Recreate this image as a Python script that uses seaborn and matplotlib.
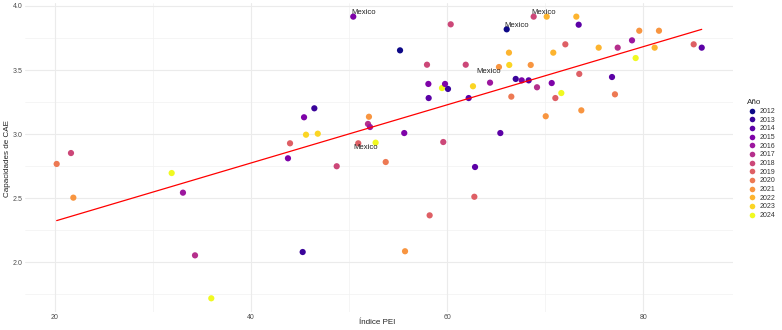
import matplotlib
matplotlib.use("Agg")
import matplotlib.pyplot as plt
import seaborn as sns
import numpy as np
import pandas as pd

# ---- data ----
pei = [20.17, 21.63, 21.87, 31.9, 33.05, 34.28, 35.94, 43.76, 43.97, 45.26,
       45.4, 45.6, 46.45, 46.8, 48.73, 50.42, 50.93, 51.92, 52.02, 52.13,
       52.7, 53.73, 55.19, 55.62, 55.7, 57.94, 58.08, 58.11, 58.21, 59.47,
       59.6, 59.78, 60.08, 60.36, 61.89, 62.19, 62.63, 62.77, 62.84, 64.37,
       65.28, 65.42, 66.07, 66.30, 66.33, 66.54, 66.99, 67.6, 68.31, 68.52,
       68.82, 69.16, 70.05, 70.15, 70.66, 70.82, 71.03, 71.64, 72.05, 73.17,
       73.41, 73.47, 73.68, 75.45, 76.81, 77.11, 77.39, 78.85, 79.22, 79.59,
       81.16, 81.6, 85.14, 85.96]
cae = [2.768, 2.853, 2.505, 2.697, 2.544, 2.055, 1.72, 2.812, 2.929, 2.081,
       3.132, 2.996, 3.202, 3.004, 2.75, 3.917, 2.929, 3.08, 3.136, 3.056,
       2.934, 2.783, 3.654, 3.009, 2.087, 3.542, 3.392, 3.282, 2.367, 3.36,
       2.939, 3.392, 3.353, 3.857, 3.542, 3.282, 3.374, 2.512, 2.744, 3.402,
       3.524, 3.009, 3.818, 3.636, 3.54, 3.293, 3.431, 3.42, 3.42, 3.54,
       3.917, 3.366, 3.14, 3.917, 3.399, 3.636, 3.282, 3.321, 3.701, 3.917,
       3.854, 3.47, 3.186, 3.675, 3.446, 3.311, 3.675, 3.732, 3.594, 3.807,
       3.675, 3.807, 3.701, 3.675]
anio = [2020, 2018, 2021, 2024, 2016, 2017, 2024, 2015, 2019, 2013,
        2015, 2023, 2013, 2023, 2018, 2015, 2019, 2017, 2021, 2016,
        2024, 2020, 2012, 2015, 2021, 2018, 2015, 2014, 2019, 2024,
        2018, 2015, 2013, 2018, 2018, 2014, 2023, 2019, 2014, 2016,
        2021, 2014, 2012, 2022, 2023, 2020, 2013, 2015, 2014, 2021,
        2018, 2017, 2021, 2022, 2015, 2022, 2019, 2024, 2019, 2022,
        2014, 2019, 2021, 2022, 2014, 2020, 2017, 2016, 2024, 2021,
        2022, 2021, 2019, 2014]
years = list(range(2012, 2025))

# Mexico labels: index of labelled point and label offset (points)
mex_idx = [15, 42, 50, 36, 16]
mex_off = [(-1.4, 2.9), (-1.4, 2.9), (-1.4, 2.9), (2.7, 10.5), (-3.6, -2.7)]

x_ticks = [20, 40, 60, 80]
y_ticks = [2.0, 2.5, 3.0, 3.5, 4.0]

df = pd.DataFrame({"pei": pei, "cae": cae, "Año": [str(a) for a in anio]})

sns.set_theme(style="white")
plt.rcParams["font.family"] = ["Liberation Sans", "DejaVu Sans"]

fig = plt.figure(figsize=(7.82, 3.30), dpi=100)
ax = fig.add_axes([25/782, 1 - 311.7/330, 708/782, 309/330])

# grid like ggplot theme_minimal
for v in [30, 50, 70]:
    ax.axvline(v, color="#F2F2F2", lw=0.5, zorder=0)
for v in [1.75, 2.25, 2.75, 3.25, 3.75]:
    ax.axhline(v, color="#F2F2F2", lw=0.5, zorder=0)
for v in x_ticks:
    ax.axvline(v, color="#EBEBEB", lw=0.8, zorder=0)
for v in y_ticks:
    ax.axhline(v, color="#EBEBEB", lw=0.8, zorder=0)

palette = [matplotlib.colors.to_hex(plt.cm.plasma(i / 12)) for i in range(13)]
pal = dict(zip([str(y) for y in years], palette))

sns.scatterplot(data=df, x="pei", y="cae", hue="Año", hue_order=[str(y) for y in years],
                palette=pal, s=20, linewidth=0, ax=ax, zorder=3)
sns.regplot(data=df, x="pei", y="cae", scatter=False, ci=None, ax=ax,
            line_kws=dict(color="red", lw=0.9, zorder=4))

for i, (dx, dy) in zip(mex_idx, mex_off):
    ax.annotate("Mexico", (pei[i], cae[i]), xytext=(dx, dy), textcoords="offset points",
                ha="left", va="center", fontsize=5.6, color="#222222", zorder=5)

ax.set_xlim(16.94, 89.15)
ax.set_ylim(1.6155, 4.0257)
ax.set_xticks(x_ticks)
ax.set_yticks(y_ticks)
ax.set_xticklabels([str(t) for t in x_ticks])
ax.set_yticklabels([f"{t:.1f}" for t in y_ticks])
ax.tick_params(axis="both", length=0, labelsize=5, labelcolor="#4D4D4D", pad=2)
for s in ax.spines.values():
    s.set_visible(False)

ax.set_xlabel("Índice PEI", fontsize=5.8, color="#222222")
ax.set_ylabel("Capacidades de CAE", fontsize=5.8, color="#222222")
ax.xaxis.set_label_coords(0.497, -0.023)
ax.yaxis.set_label_coords(-0.0195, 0.497)

handles, labels = ax.get_legend_handles_labels()
leg = ax.legend(handles, labels, title="Año", loc="upper left",
                bbox_to_anchor=(744/782, 1 - 96/330), bbox_transform=fig.transFigure,
                frameon=False, fontsize=5, title_fontsize=5.8, labelspacing=0.24,
                handletextpad=0.6, borderpad=0, handlelength=1.2, markerscale=0.9,
                alignment="left")
for t in leg.get_texts():
    t.set_color("#333333")

fig.savefig("out.png", dpi=100, facecolor="white")
